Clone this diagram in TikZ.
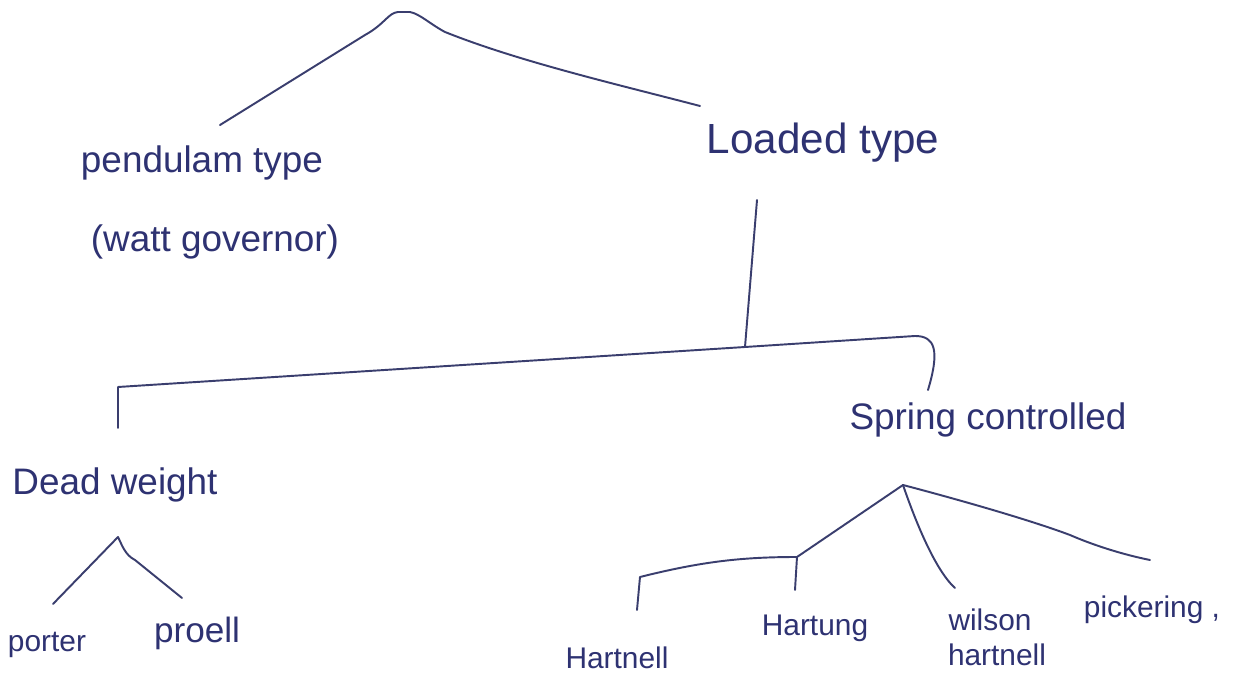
\documentclass[tikz,border=0pt]{standalone}
\usepackage{fontspec}
\setmainfont{Liberation Sans}
\definecolor{ink}{HTML}{2E3272}
\definecolor{pen}{HTML}{3A3E6E}
\begin{document}
\begin{tikzpicture}[x=0.02cm,y=-0.02cm,
  ln/.style={draw=pen,line width=1.1pt,line cap=round,line join=round},
  big/.style={text=ink,inner sep=0pt,font=\fontsize{21}{24}\selectfont},
  leaf/.style={text=ink,inner sep=0pt,font=\fontsize{17}{20}\selectfont}]
\useasboundingbox[fill=white] (0,0) rectangle (1235,675);
% text nodes
\node[big] (pend) at (202,163) {pendulam type};
\node[big] (watt) at (215,242) {(watt governor)};
\node[big,font=\fontsize{24}{27}\selectfont] (load) at (823,143) {Loaded type};
\node[big] (spring) at (988,420) {Spring controlled};
\node[big] (dead) at (115,485) {Dead weight};
\node[leaf] (porter) at (47,645) {porter};
\node[leaf,font=\fontsize{20}{23}\selectfont] (proell) at (197,633) {proell};
\node[leaf] (hartnell) at (617,658) {Hartnell};
\node[leaf] (hartung) at (815,628) {Hartung};
\node[leaf] (wilson) at (990,620) {wilson};
\node[leaf] (wilson2) at (997,655) {hartnell};
\node[leaf] (pick) at (1152,610) {pickering ,};
% connector coordinates
\coordinate (root) at (402,12);
\coordinate (pendT) at (220,125);
\coordinate (loadT) at (700,106);
\coordinate (loadB) at (757,200);
\coordinate (lj) at (745,347);
\coordinate (lcorner) at (118,387);
\coordinate (deadT) at (118,428);
\coordinate (springT) at (928,390);
\coordinate (dw) at (118,537);
\coordinate (porterT) at (53,604);
\coordinate (proellT) at (182,598);
\coordinate (sp) at (903,485);
\coordinate (hj) at (797,557);
\coordinate (hartnellT) at (637,610);
\coordinate (hartungT) at (795,590);
\coordinate (wilsonT) at (955,588);
\coordinate (pickT) at (1150,560);
% top split
\draw[ln] (pendT) -- (365,35) .. controls (385,24) and (388,13) .. (398,12) -- (root) -- (410,12)
  .. controls (420,14) and (430,24) .. (445,32) .. controls (520,62) and (620,85) .. (loadT);
% loaded type branch
\draw[ln] (loadB) -- (lj);
\draw[ln] (lj) -- (lcorner) -- (deadT);
\draw[ln] (lj) -- (915,336) .. controls (935,336) and (940,350) .. (springT);
% dead weight
\draw[ln] (porterT) -- (dw) .. controls (122,545) and (125,555) .. (135,560) -- (proellT);
% spring controlled
\draw[ln] (sp) -- (hj);
\draw[ln] (hj) .. controls (740,557) and (700,562) .. (640,577) -- (hartnellT);
\draw[ln] (hj) -- (hartungT);
\draw[ln] (sp) .. controls (915,520) and (935,570) .. (wilsonT);
\draw[ln] (sp) .. controls (960,500) and (1030,520) .. (1070,535) .. controls (1100,548) and (1130,556) .. (pickT);
\end{tikzpicture}
\end{document}
